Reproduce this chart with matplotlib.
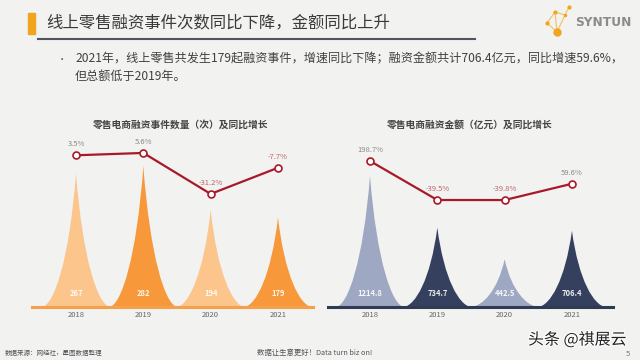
import matplotlib.pyplot as plt
import matplotlib.patheffects as pe
from matplotlib.patches import PathPatch, Rectangle
from matplotlib.path import Path

plt.rcParams['font.family'] = ['Noto Sans CJK SC', 'DejaVu Sans']

years = ['2018', '2019', '2020', '2021']
event_counts = [267, 282, 194, 179]
event_yoy = [3.5, 5.6, -31.2, -7.7]
amounts = [1214.8, 734.7, 442.5, 706.4]
amount_yoy = [198.7, -39.5, -39.8, 59.6]

BG = '#f2f2f0'
LINE_RED = '#a8192a'
POS_GRAY = '#8a8a8a'
NEG_RED = '#b8686a'


def spike(ax, x, h, color, width=1.0):
    # concave-sided spike, base on y=0 and tip at h
    w = width / 2
    verts = [(x - w, 0), (x - 0.65 * w, 0.02 * h), (x - 0.2 * w, 0.35 * h), (x, h),
             (x + 0.2 * w, 0.35 * h), (x + 0.65 * w, 0.02 * h), (x + w, 0), (x - w, 0)]
    codes = [Path.MOVETO, Path.CURVE4, Path.CURVE4, Path.CURVE4,
             Path.CURVE4, Path.CURVE4, Path.CURVE4, Path.CLOSEPOLY]
    ax.add_patch(PathPatch(Path(verts, codes), fc=color, ec='none', zorder=2))


def spike_chart(rect, values, yoy, colors, base_color, xlim, ymax, yoy_lim, fmt):
    ax = fig.add_axes(rect)
    ax.set_facecolor('none')
    xs = range(len(values))
    for i, v in enumerate(values):
        spike(ax, i, v, colors[i % 2])
        ax.annotate(fmt.format(v), (i, 0), xytext=(0, 10), textcoords='offset points',
                    ha='center', va='center', fontsize=5.5, color='white',
                    fontweight='bold', alpha=0.9, zorder=3)
    ax.set_xlim(*xlim)
    ax.set_ylim(0, ymax)
    for s in ['top', 'left', 'right']:
        ax.spines[s].set_visible(False)
    ax.spines['bottom'].set_color(base_color)
    ax.spines['bottom'].set_linewidth(2.2)
    ax.set_xticks(list(xs))
    ax.set_xticklabels(years, fontsize=5.5, color='#666666')
    ax.tick_params(axis='x', length=0, pad=3)
    ax.set_yticks([])

    ax2 = ax.twinx()
    ax2.plot(list(xs), yoy, color=LINE_RED, lw=1.6, marker='o', ms=5,
             mfc='white', mec=LINE_RED, mew=1.2, zorder=5)
    for i, v in enumerate(yoy):
        ax2.annotate(f'{v}%', (i, v), xytext=(0, 8), textcoords='offset points',
                     ha='center', va='center', fontsize=5.5,
                     color=POS_GRAY if v > 0 else NEG_RED, zorder=6)
    ax2.set_ylim(*yoy_lim)
    ax2.set_yticks([])
    for s in ax2.spines.values():
        s.set_visible(False)
    return ax


fig = plt.figure(figsize=(6.4, 3.6), dpi=100, facecolor=BG)

# overlay in pixel coordinates for header/footer decorations
deco = fig.add_axes([0, 0, 1, 1])
deco.set_xlim(0, 640)
deco.set_ylim(360, 0)
deco.axis('off')

deco.add_patch(Rectangle((28, 13), 7, 21, color='#f0a51c'))
deco.text(46, 23, '线上零售融资事件次数同比下降，金额同比上升', fontsize=11.8,
          color='#3a3a3a', va='center', ha='left')
deco.plot([38, 475], [39, 39], color='#50555e', lw=1.5)

# logo
pts = {'a': (547, 23), 'b': (555, 12), 'c': (557, 32), 'd': (569, 7), 'e': (565, 15)}
for p, q in [('a', 'c'), ('b', 'c'), ('c', 'e'), ('e', 'd'), ('b', 'e'), ('a', 'b')]:
    deco.plot([pts[p][0], pts[q][0]], [pts[p][1], pts[q][1]], color='#f4c060', lw=0.8)
for k, s in zip('abcde', [3, 3, 6, 3, 2.5]):
    deco.plot(*pts[k], 'o', color='#f0a51c', ms=s, mec='none')
deco.text(575, 23, 'SYNTUN', fontsize=8.8, color='#8c8c8c', fontweight='bold',
          va='center', ha='left', family='DejaVu Sans')

deco.text(62, 59, '•', fontsize=6, color='#404040', va='center', ha='center')
deco.text(75, 59, '2021年，线上零售共发生179起融资事件，增速同比下降；融资金额共计706.4亿元，同比增速59.6%，',
          fontsize=8.7, color='#404040', va='center', ha='left')
deco.text(75, 76, '但总额低于2019年。', fontsize=8.7, color='#404040', va='center', ha='left')

deco.text(181, 125, '零售电商融资事件数量（次）及同比增长', fontsize=7, fontweight='bold',
          color='#444444', va='center', ha='center')
deco.text(470, 125, '零售电商融资金额（亿元）及同比增长', fontsize=7, fontweight='bold',
          color='#444444', va='center', ha='center')

deco.text(5, 353, '数据来源：网经社，星图数据整理', fontsize=4.7, color='#555555', va='center')
deco.text(257, 353, '数据让生意更好！Data turn biz on!', fontsize=5.3, color='#555555', va='center')
deco.text(528, 340, '头条 @祺展云', fontsize=11.5, color='#222222', va='center',
          path_effects=[pe.withStroke(linewidth=1.5, foreground='white')])
deco.text(628, 354, '5', fontsize=5.5, color='#777777', va='center', ha='center')

bottom = 1 - 307 / 360
height = 177 / 360
spike_chart([32 / 640, bottom, 281 / 640, height], event_counts, event_yoy,
            ['#fbc58c', '#f7993a'], '#f5a04a', (-0.654, 3.52), 354,
            (-132.7, 26.2), '{}')
spike_chart([328 / 640, bottom, 285 / 640, height], amounts, amount_yoy,
            ['#9ea8c3', '#34405e'], '#2f3a55', (-0.624, 3.61), 1639,
            (-693, 388), '{:.1f}')

fig.savefig('out.png', dpi=100, facecolor=BG)
